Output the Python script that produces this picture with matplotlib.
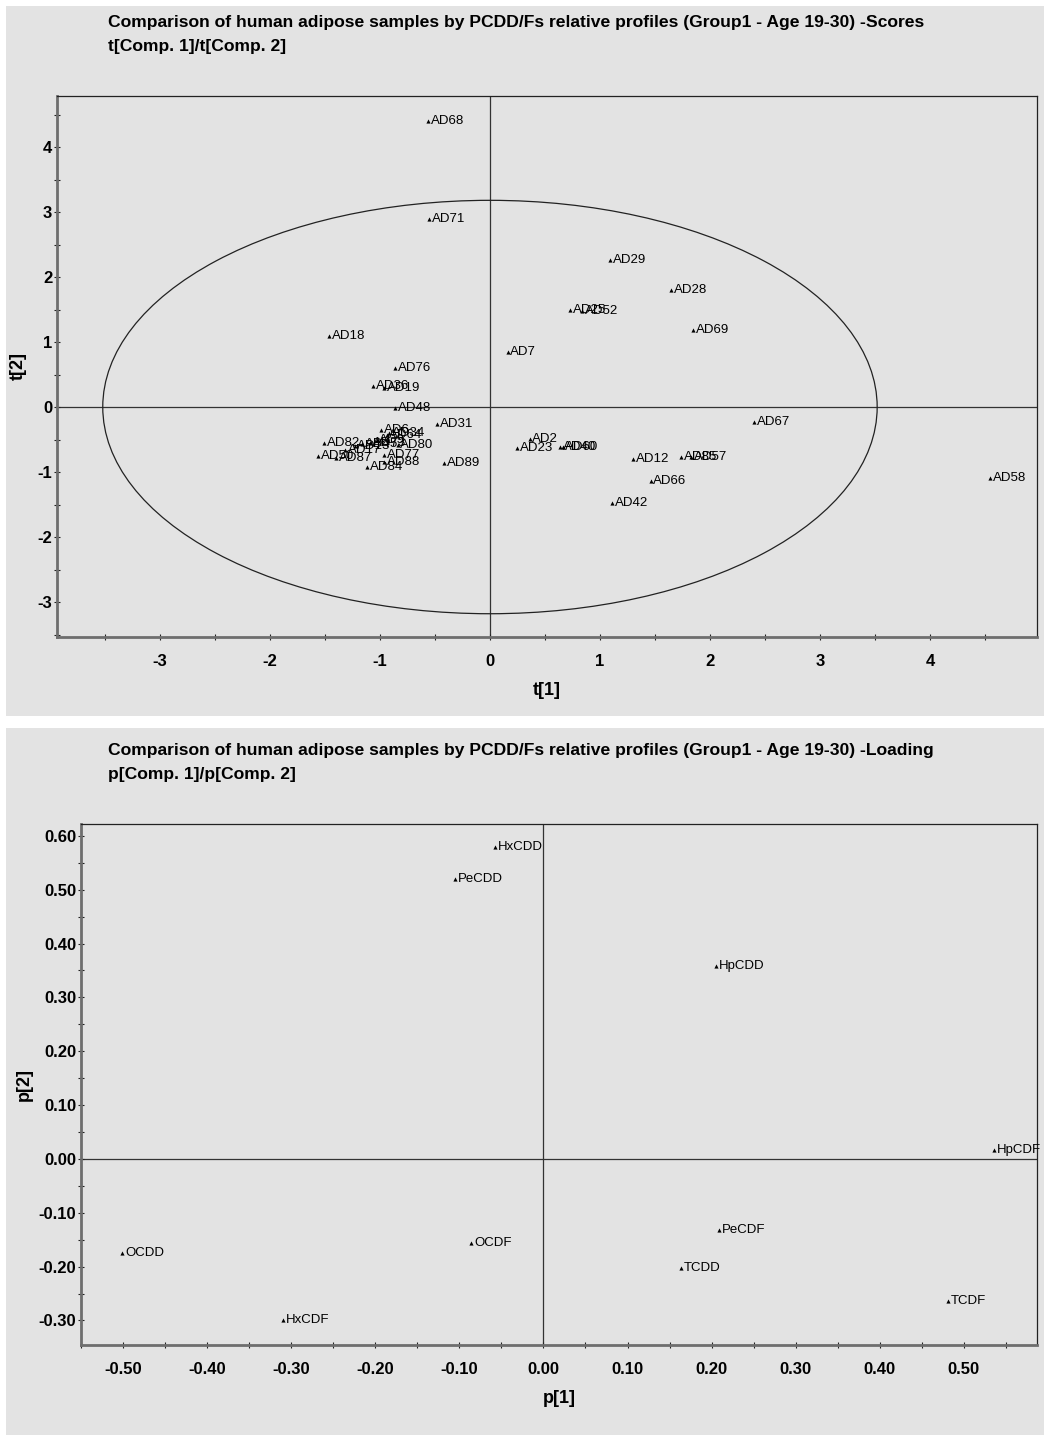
import numpy as np
import matplotlib
matplotlib.use("Agg")
import matplotlib.pyplot as plt
from matplotlib.patches import Ellipse, Rectangle
from matplotlib.ticker import MultipleLocator, FormatStrFormatter

# ---------------- scores t[1] / t[2] ----------------
score_labels = [
    "AD68", "AD71", "AD29", "AD28", "AD25", "AD52", "AD69", "AD18", "AD7",
    "AD76", "AD36", "AD19", "AD48", "AD31", "AD67", "AD2", "AD23", "AD40",
    "AD60", "AD12", "AD85", "AD57", "AD66", "AD42", "AD58", "AD89", "AD80",
    "AD6", "AD64", "AD82", "AD50", "AD87", "AD84", "AD77", "AD88", "AD13",
    "AD45", "AD73", "AD9", "AD34", "AD17",
]
score_t1 = [
    -0.56, -0.55, 1.09, 1.65, 0.73, 0.84, 1.85, -1.46, 0.16,
    -0.86, -1.06, -0.96, -0.86, -0.48, 2.40, 0.36, 0.25, 0.64,
    0.66, 1.30, 1.74, 1.83, 1.46, 1.11, 4.55, -0.42, -0.84,
    -0.99, -0.94, -1.51, -1.56, -1.40, -1.12, -0.96, -0.96, -1.23,
    -1.16, -1.09, -1.03, -0.92, -1.32,
]
score_t2 = [
    4.40, 2.89, 2.26, 1.80, 1.49, 1.48, 1.18, 1.09, 0.85,
    0.60, 0.32, 0.29, -0.02, -0.26, -0.23, -0.49, -0.63, -0.62,
    -0.62, -0.80, -0.77, -0.77, -1.14, -1.48, -1.09, -0.86, -0.59,
    -0.35, -0.43, -0.55, -0.75, -0.78, -0.92, -0.74, -0.85, -0.60,
    -0.57, -0.55, -0.51, -0.40, -0.66,
]

# ---------------- loadings p[1] / p[2] ----------------
load_labels = ["HxCDD", "PeCDD", "HpCDD", "HpCDF", "OCDD",
               "OCDF", "PeCDF", "TCDD", "TCDF", "HxCDF"]
load_p1 = [-0.058, -0.105, 0.205, 0.536, -0.501,
           -0.086, 0.209, 0.164, 0.481, -0.310]
load_p2 = [0.580, 0.520, 0.358, 0.017, -0.175,
           -0.156, -0.132, -0.203, -0.264, -0.299]

# Hotelling T2 ellipse semi-axes
ell_a, ell_b = 3.52, 3.18

BG = "#e3e3e3"
plt.rcParams["font.family"] = ["Liberation Sans", "DejaVu Sans"]

fig = plt.figure(figsize=(10.47, 14.38), dpi=100)

# grey panels behind each plot
for y0, h in [(1 - 716 / 1438, 710 / 1438), (1 - 1435 / 1438, 707 / 1438)]:
    fig.patches.append(Rectangle((6 / 1047, y0), 1038 / 1047, h,
                                 transform=fig.transFigure, facecolor=BG,
                                 edgecolor="none", zorder=-10))

ax1 = fig.add_axes([57 / 1047, 1 - 637 / 1438, 980 / 1047, 541 / 1438])
ax2 = fig.add_axes([81 / 1047, 1 - 1345 / 1438, 956 / 1047, 521 / 1438])


def style_axes(ax, xlim, ylim, major_x, major_y, fmt):
    ax.set_facecolor(BG)
    ax.set_xlim(*xlim)
    ax.set_ylim(*ylim)
    ax.axhline(0, color="#333333", lw=0.9, zorder=1)
    ax.axvline(0, color="#333333", lw=0.9, zorder=1)
    ax.xaxis.set_major_locator(MultipleLocator(major_x))
    ax.xaxis.set_minor_locator(MultipleLocator(major_x / 2))
    ax.yaxis.set_major_locator(MultipleLocator(major_y))
    ax.yaxis.set_minor_locator(MultipleLocator(major_y / 2))
    ax.xaxis.set_major_formatter(FormatStrFormatter(fmt))
    ax.yaxis.set_major_formatter(FormatStrFormatter(fmt))
    ax.tick_params(which="both", direction="inout", length=5, width=0.8,
                   color="#222222")
    ax.tick_params(which="major", labelsize=12)
    ax.tick_params(axis="x", which="major", pad=10)
    ax.tick_params(axis="y", which="major", pad=1)
    for t in ax.get_xticklabels() + ax.get_yticklabels():
        t.set_fontweight("bold")
    for s in ("left", "bottom"):
        ax.spines[s].set_color("#6e6e6e")
        ax.spines[s].set_linewidth(2.0)
    for s in ("top", "right"):
        ax.spines[s].set_color("#222222")
        ax.spines[s].set_linewidth(0.9)


def label_points(ax, xs, ys, names):
    ax.scatter(xs, ys, marker="^", s=9, color="black", zorder=3, linewidths=0)
    for x, y, n in zip(xs, ys, names):
        ax.annotate(n, (x, y), xytext=(2, 0), textcoords="offset points",
                    va="center", ha="left", fontsize=9.5, zorder=4)


# scores plot
style_axes(ax1, (-3.936, 4.973), (-3.538, 4.785), 1, 1, "%g")
ax1.add_patch(Ellipse((0, 0), 2 * ell_a, 2 * ell_b, fill=False,
                      edgecolor="#222222", lw=0.9, zorder=2))
label_points(ax1, score_t1, score_t2, score_labels)
ax1.set_xlabel("t[1]", fontsize=13, fontweight="bold", labelpad=9)
ax1.set_ylabel("t[2]", fontsize=13, fontweight="bold", labelpad=8)

# loadings plot
style_axes(ax2, (-0.550, 0.587), (-0.3455, 0.622), 0.1, 0.1, "%.2f")
label_points(ax2, load_p1, load_p2, load_labels)
ax2.set_xlabel("p[1]", fontsize=13, fontweight="bold", labelpad=9)
ax2.set_ylabel("p[2]", fontsize=13, fontweight="bold", labelpad=4)

title_kw = dict(fontsize=12.6, fontweight="bold", va="center", ha="left",
                transform=fig.transFigure)
fig.text(108 / 1047, 1 - 22 / 1438,
         "Comparison of human adipose samples by PCDD/Fs relative profiles "
         "(Group1 - Age 19-30) -Scores", **title_kw)
fig.text(108 / 1047, 1 - 46 / 1438, "t[Comp. 1]/t[Comp. 2]", **title_kw)
fig.text(108 / 1047, 1 - 750 / 1438,
         "Comparison of human adipose samples by PCDD/Fs relative profiles "
         "(Group1 - Age 19-30) -Loading", **title_kw)
fig.text(108 / 1047, 1 - 774 / 1438, "p[Comp. 1]/p[Comp. 2]", **title_kw)

fig.savefig("out.png", dpi=100, facecolor="white")
